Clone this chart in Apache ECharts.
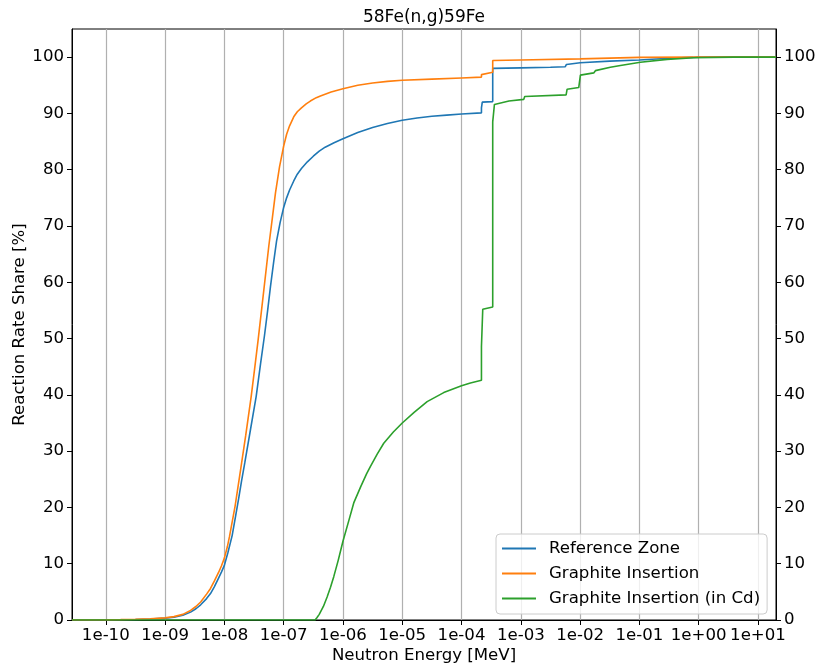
<!DOCTYPE html>
<html><head><meta charset="utf-8">
<script src="https://cdn.jsdelivr.net/npm/echarts@6/dist/echarts.min.js"></script>
<style>html,body{margin:0;padding:0;background:#fff}#c{width:819px;height:667px}</style>
</head><body><div id="c"></div>
<script>
const chartTitle = '58Fe(n,g)59Fe';
const xName = 'Neutron Energy [MeV]';
const yName = 'Reaction Rate Share [%]';
const seriesNames = ['Reference Zone', 'Graphite Insertion', 'Graphite Insertion (in Cd)'];
const seriesColors = ['#1f77b4', '#ff7f0e', '#2ca02c'];
const xTickExponents = [-10, -9, -8, -7, -6, -5, -4, -3, -2, -1, 0, 1];
const yTicks = [0, 10, 20, 30, 40, 50, 60, 70, 80, 90, 100];
const xMinExp = -10.57, xMaxExp = 1.304;
const yMin = 0, yMax = 105;

// log10(Energy [MeV]) and cumulative share [%]
const refLog10E = [-10.57, -10, -9.75, -9.5, -9.25, -9, -8.85, -8.7, -8.57, -8.48, -8.4, -8.3, -8.234, -8.17, -8.1, -8.05, -8.0, -7.94, -7.869, -7.81, -7.76, -7.71, -7.656, -7.56, -7.464, -7.39, -7.324, -7.27, -7.223, -7.17, -7.12, -7.06, -7.0, -6.95, -6.9, -6.83, -6.77, -6.7, -6.6, -6.5, -6.4, -6.3, -6.15, -6.0, -5.75, -5.5, -5.25, -5.0, -4.75, -4.5, -4.25, -4.0, -3.664, -3.664, -3.65, -3.65, -3.474, -3.474, -3.0, -2.5, -2.25, -2.23, -2.0, -1.5, -1.0, -0.5, -0.1, 0, 1.304];
const refShare  = [0, 0.02, 0.05, 0.1, 0.19, 0.33, 0.5, 0.85, 1.4, 2.0, 2.7, 3.8, 4.7, 5.9, 7.4, 8.5, 9.7, 12.0, 15.0, 18.5, 21.5, 24.7, 27.9, 33.8, 39.7, 45.5, 50.5, 55.0, 59.2, 63.5, 67.3, 70.6, 73.3, 75.0, 76.4, 78.0, 79.2, 80.2, 81.4, 82.4, 83.3, 84.0, 84.8, 85.5, 86.6, 87.5, 88.2, 88.8, 89.2, 89.5, 89.7, 89.9, 90.1, 91.0, 91.0, 92.0, 92.1, 98.0, 98.1, 98.2, 98.3, 98.7, 99.0, 99.3, 99.5, 99.8, 99.95, 100, 100];

const grLog10E = [-10.57, -10, -9.75, -9.5, -9.25, -9, -8.85, -8.7, -8.57, -8.48, -8.4, -8.3, -8.234, -8.17, -8.1, -8.05, -8.0, -7.95, -7.914, -7.82, -7.728, -7.64, -7.548, -7.49, -7.43, -7.35, -7.251, -7.19, -7.138, -7.07, -7.0, -6.95, -6.9, -6.83, -6.77, -6.7, -6.62, -6.55, -6.45, -6.38, -6.2, -6.0, -5.75, -5.5, -5.25, -5.0, -4.5, -4.0, -3.664, -3.664, -3.64, -3.64, -3.474, -3.474, -3.0, -2.0, -1.99, -1.0, 0, 1.304];
const grShare  = [0, 0.03, 0.06, 0.12, 0.22, 0.38, 0.6, 1.0, 1.7, 2.4, 3.2, 4.6, 5.6, 6.9, 8.4, 9.6, 11.0, 13.0, 14.8, 20.2, 26.6, 32.8, 39.7, 44.6, 49.8, 57.2, 66.4, 71.5, 75.9, 80.5, 84.2, 86.3, 87.8, 89.4, 90.3, 91.0, 91.7, 92.2, 92.8, 93.1, 93.8, 94.4, 95.0, 95.4, 95.7, 95.9, 96.1, 96.3, 96.45, 96.9, 96.9, 97.2, 97.3, 99.4, 99.5, 99.7, 99.85, 99.95, 100, 100];

const cdLog10E = [-10.57, -6.47, -6.44, -6.4, -6.33, -6.267, -6.21, -6.155, -6.08, -6.0, -5.9, -5.818, -5.7, -5.6, -5.536, -5.42, -5.312, -5.15, -5.0, -4.8, -4.58, -4.3, -4.0, -3.85, -3.664, -3.664, -3.642, -3.642, -3.474, -3.474, -3.445, -3.445, -3.2, -2.95, -2.934, -2.236, -2.219, -2.023, -1.995, -1.77, -1.742, -1.49, -1.32, -0.983, -0.533, -0.084, 0.59, 1.304];
const cdShare  = [0, 0, 0.4, 1.0, 2.4, 4.1, 5.8, 7.7, 10.6, 14.0, 17.7, 20.8, 23.7, 26.0, 27.3, 29.5, 31.4, 33.4, 35.0, 36.9, 38.8, 40.4, 41.6, 42.1, 42.6, 48.6, 48.6, 55.2, 55.6, 88.5, 88.5, 91.6, 92.2, 92.5, 93.0, 93.3, 94.3, 94.6, 96.8, 97.2, 97.6, 98.2, 98.5, 99.1, 99.6, 99.9, 100, 100];

const FONT = 'DejaVu Sans';
const FS = 16.6;
function expLabel(v) {
  const e = Math.round(v);
  const a = Math.abs(e);
  return '1e' + (e < 0 ? '-' : '+') + (a < 10 ? '0' : '') + a;
}
function zip(xs, ys) { return xs.map((x, i) => [x, ys[i]]); }

const seriesData = [zip(refLog10E, refShare), zip(grLog10E, grShare), zip(cdLog10E, cdShare)];

const gridL = 72, gridR = 43, gridT = 29, gridB = 47;

const yAxisCommon = (pos) => ({
  type: 'value', min: yMin, max: yMax, position: pos,
  axisLine: { show: true, onZero: false, lineStyle: { color: '#000', width: 1 } },
  axisTick: { show: true, customValues: yTicks, length: 5, lineStyle: { color: '#000', width: 1 } },
  axisLabel: { customValues: yTicks, margin: 8, color: '#000', fontFamily: FONT, fontSize: FS },
  splitLine: { show: false }
});

const chart = echarts.init(document.getElementById('c'), null, { renderer: 'canvas' });
chart.setOption({
  animation: false,
  backgroundColor: '#fff',
  graphic: [{
    type: 'text', x: (gridL + 819 - gridR) / 2, y: 18,
    style: { text: chartTitle, fill: '#000', font: '17px "' + FONT + '"', textAlign: 'center', textVerticalAlign: 'middle' }
  }],
  grid: { left: gridL, right: gridR, top: gridT, bottom: gridB, containLabel: false, outerBoundsMode: 'none', show: true, borderColor: '#000', borderWidth: 1, backgroundColor: 'transparent' },
  legend: {
    left: 496, top: 534, orient: 'vertical',
    icon: 'rect',
    itemWidth: 34, itemHeight: 2, itemGap: 6,
    padding: [5, 7, 6, 6],
    backgroundColor: 'rgba(255,255,255,0.8)', borderColor: '#cccccc', borderWidth: 1, borderRadius: 4,
    textStyle: { fontFamily: FONT, fontSize: FS, color: '#000', padding: [0, 0, 0, 8], lineHeight: 19 },
    data: seriesNames
  },
  xAxis: {
    type: 'value', min: xMinExp, max: xMaxExp,
    name: xName, nameLocation: 'middle', nameGap: 27, nameMoveOverlap: false,
    nameTextStyle: { fontFamily: FONT, fontSize: FS, color: '#000' },
    axisLine: { show: true, onZero: false, lineStyle: { color: '#000', width: 1 } },
    axisTick: { show: true, customValues: xTickExponents, length: 5, lineStyle: { color: '#000', width: 1 } },
    axisLabel: { customValues: xTickExponents, formatter: expLabel, margin: 7, color: '#000', fontFamily: FONT, fontSize: FS },
    splitLine: { show: true, lineStyle: { color: '#b0b0b0', width: 1.2 } }
  },
  yAxis: [
    Object.assign(yAxisCommon('left'), {
      name: yName, nameLocation: 'middle', nameGap: 44, nameRotate: 90, nameMoveOverlap: false,
      nameTextStyle: { fontFamily: FONT, fontSize: FS, color: '#000' }
    }),
    yAxisCommon('right')
  ],
  series: seriesNames.map((n, i) => ({
    name: n, type: 'line', yAxisIndex: 0, data: seriesData[i],
    symbol: 'none', showSymbol: false, clip: true,
    lineStyle: { color: seriesColors[i], width: 1.6 },
    itemStyle: { color: seriesColors[i] },
    z: 2 + i
  }))
});
</script>
</body></html>
